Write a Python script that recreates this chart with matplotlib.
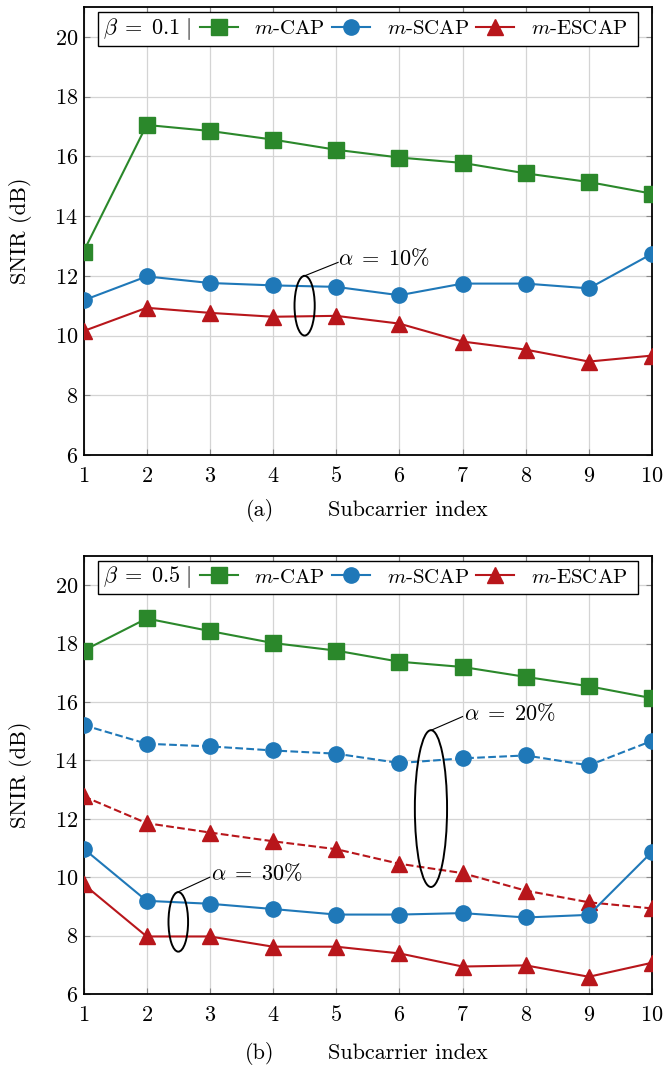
import numpy as np
import matplotlib.pyplot as plt
from matplotlib.patches import Ellipse, Rectangle
from matplotlib.lines import Line2D

plt.rcParams["font.family"] = "serif"
plt.rcParams["font.serif"] = ["cmr10"]
plt.rcParams["mathtext.fontset"] = "cm"
plt.rcParams["axes.formatter.use_mathtext"] = True

idx = np.arange(1, 11)

# (a) beta = 0.1, alpha = 10%
cap_a = [12.81, 17.05, 16.85, 16.56, 16.22, 15.96, 15.78, 15.43, 15.14, 14.75]
scap_a = [11.18, 11.98, 11.76, 11.68, 11.63, 11.35, 11.74, 11.74, 11.58, 12.74]
escap_a = [10.15, 10.93, 10.76, 10.63, 10.66, 10.40, 9.80, 9.53, 9.13, 9.33]

# (b) beta = 0.5
cap_b = [17.76, 18.86, 18.43, 18.02, 17.76, 17.38, 17.20, 16.86, 16.54, 16.13]
scap_b20 = [15.21, 14.57, 14.48, 14.34, 14.23, 13.91, 14.07, 14.17, 13.83, 14.67]
escap_b20 = [12.77, 11.85, 11.53, 11.23, 10.96, 10.46, 10.14, 9.54, 9.14, 8.93]
scap_b30 = [10.98, 9.19, 9.09, 8.91, 8.72, 8.72, 8.77, 8.62, 8.71, 10.87]
escap_b30 = [9.76, 7.97, 7.97, 7.62, 7.62, 7.39, 6.94, 6.98, 6.59, 7.07]

green = "#2b882b"
blue = "#1f78b8"
red = "#b8161b"
styles = {
    "cap": dict(color=green, marker="s", markersize=11),
    "scap": dict(color=blue, marker="o", markersize=11),
    "escap": dict(color=red, marker="^", markersize=11),
}
labels = {"cap": "$m$-CAP", "scap": "$m$-SCAP", "escap": "$m$-ESCAP"}
FS = 16

fig = plt.figure(figsize=(6.64, 10.74), dpi=100)
ax1 = fig.add_axes([0.1258, 0.5763, 0.8562, 0.4172])
ax2 = fig.add_axes([0.1258, 0.0745, 0.8562, 0.4078])


def setup(ax, beta):
    ax.set_xlim(1, 10)
    ax.set_ylim(6, 21)
    ax.set_xticks(idx)
    ax.set_yticks(range(6, 21, 2))
    ax.grid(True, color="#d4d4d4", linewidth=0.9)
    ax.set_axisbelow(True)
    ax.tick_params(direction="in", top=True, right=True, labelsize=FS,
                   length=4, color="#888888", pad=4)
    ax.tick_params(axis="x", pad=8)
    for s in ax.spines.values():
        s.set_linewidth(1.3)
    ax.set_ylabel("SNIR (dB)", fontsize=FS, labelpad=16)
    # legend box
    ax.add_patch(Rectangle((0.0255, 0.913), 0.9495, 0.076, transform=ax.transAxes,
                           facecolor="white", edgecolor="black", linewidth=1.0,
                           zorder=5))
    ax.text(0.035, 0.951, r"$\beta\;=\;%s\;|$" % beta, transform=ax.transAxes,
            fontsize=FS, va="center", ha="left", zorder=6)
    handles = [Line2D([], [], linewidth=1.5, **styles[k]) for k in ["cap", "scap", "escap"]]
    leg = ax.legend(handles, [labels[k] for k in ["cap", "scap", "escap"]],
                    ncol=3, loc="center left", bbox_to_anchor=(0.205, 0.951),
                    frameon=False, fontsize=15, handlelength=1.8,
                    handletextpad=0.8, columnspacing=0.35, borderpad=0,
                    borderaxespad=0)
    leg.set_zorder(6)


def curve(ax, y, key, ls="-"):
    ax.plot(idx, y, linestyle=ls, linewidth=1.5, **styles[key], zorder=3)


def xlabels(ax, tag, yf):
    ax.text(0.31, yf, tag, transform=ax.transAxes, fontsize=FS, ha="center",
            va="center")
    ax.text(0.571, yf, "Subcarrier index", transform=ax.transAxes, fontsize=FS,
            ha="center", va="center")


setup(ax1, "0.1")
curve(ax1, cap_a, "cap")
curve(ax1, scap_a, "scap")
curve(ax1, escap_a, "escap")
ax1.add_patch(Ellipse((4.5, 11.0), 0.32, 2.0, fill=False, edgecolor="black",
                      linewidth=1.4, zorder=4))
ax1.plot([4.5, 5.03], [12.0, 12.45], color="black", linewidth=0.8, zorder=4)
ax1.text(5.03, 12.6, r"$\alpha\;=\;10\%$", fontsize=FS, va="center", ha="left")
xlabels(ax1, "(a)", -0.123)

setup(ax2, "0.5")
curve(ax2, cap_b, "cap")
curve(ax2, scap_b20, "scap", "--")
curve(ax2, escap_b20, "escap", "--")
curve(ax2, scap_b30, "scap")
curve(ax2, escap_b30, "escap")
ax2.add_patch(Ellipse((2.5, 8.47), 0.31, 2.04, fill=False, edgecolor="black",
                      linewidth=1.4, zorder=4))
ax2.plot([2.5, 3.0], [9.5, 10.0], color="black", linewidth=0.8, zorder=4)
ax2.text(3.02, 10.15, r"$\alpha\;=\;30\%$", fontsize=FS, va="center", ha="left")
ax2.add_patch(Ellipse((6.5, 12.35), 0.51, 5.37, fill=False, edgecolor="black",
                      linewidth=1.4, zorder=4))
ax2.plot([6.5, 7.0], [15.03, 15.5], color="black", linewidth=0.8, zorder=4)
ax2.text(7.03, 15.6, r"$\alpha\;=\;20\%$", fontsize=FS, va="center", ha="left")
xlabels(ax2, "(b)", -0.135)

fig.savefig("out.png", dpi=100)
